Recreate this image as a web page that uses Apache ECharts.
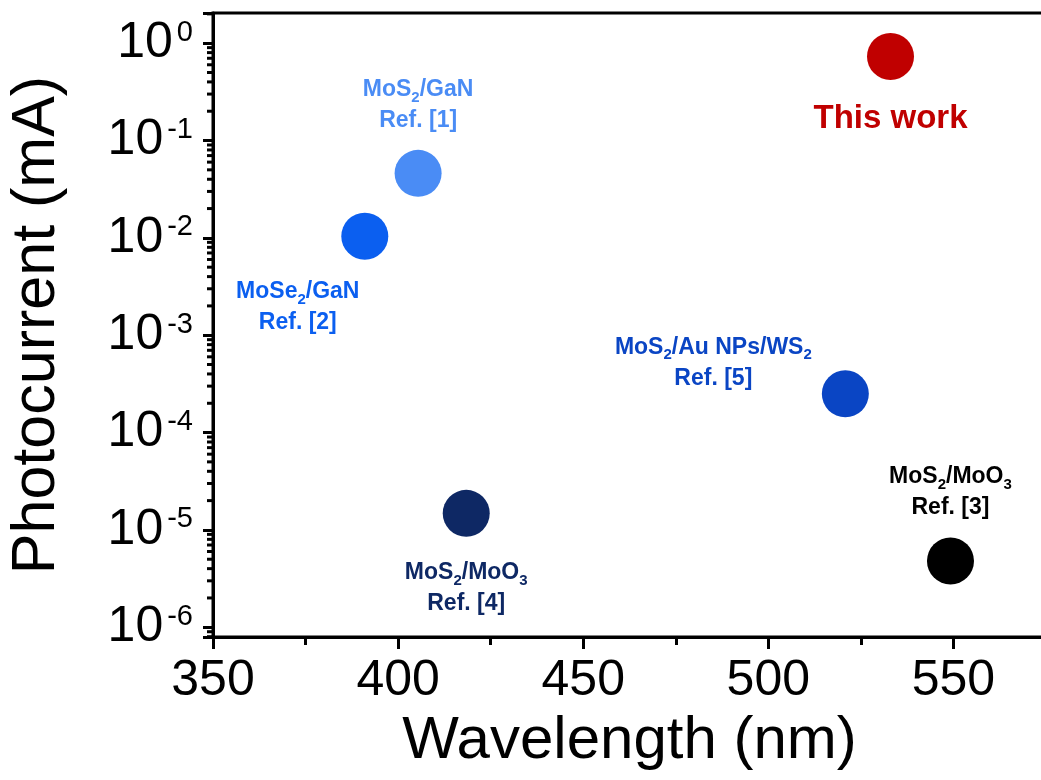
<!DOCTYPE html>
<html>
<head>
<meta charset="utf-8">
<script src="https://cdn.jsdelivr.net/npm/echarts@6/dist/echarts.min.js"></script>
<style>
  html, body { margin: 0; padding: 0; background: #fff; }
  #chart { width: 1041px; height: 780px; }
</style>
</head>
<body>
<div id="chart"></div>
<script>
// values
const wavelength = [391, 405.4, 418.4, 520.8, 533, 549.2];
const photocurrent = [1.04e-2, 4.6e-2, 1.48e-5, 2.5e-4, 0.73, 4.8e-6];
const sampleLabels = [
    '{t|MoSe}{s|2}{t|/GaN}\n{t|Ref. [2]}',
    '{t|MoS}{s|2}{t|/GaN}\n{t|Ref. [1]}',
    '{t|MoS}{s|2}{t|/MoO}{s|3}\n{t|Ref. [4]}',
    '{t|MoS}{s|2}{t|/Au NPs/WS}{s|2}\n{t|Ref. [5]}',
    '{w|This work}',
    '{t|MoS}{s|2}{t|/MoO}{s|3}\n{t|Ref. [3]}'
];
const xTicks = [350, 400, 450, 500, 550];
const yDecades = [-6, -5, -4, -3, -2, -1, 0];

// styling
const colors = ['#0b5ff0', '#4a8cf5', '#0e2864', '#0a45c4', '#c00000', '#000000'];
const labelOffsets = [[-67, 71], [0, -68], [0, 75], [-132, -31], [0, 62], [0, -69]];
const font = '"Liberation Sans", Arial, sans-serif';

const xMin = 350, xMax = 575;
const yMin = Math.pow(10, -6.1), yMax = Math.pow(10, 0.31);

// minor log ticks (2..9 per decade) within the axis range
const minorTicks = [];
for (let e = -7; e <= 0; e++) {
    for (let m = 2; m <= 9; m++) {
        const v = m * Math.pow(10, e);
        if (v > yMin && v < yMax) minorTicks.push(v);
    }
}

const isDecade = (v) => Math.abs(Math.log10(v) - Math.round(Math.log10(v))) < 1e-6;

const chart = echarts.init(document.getElementById('chart'));
chart.setOption({
    animation: false,
    grid: {
        left: 213, width: 833, top: 13, bottom: 143,
        outerBoundsMode: 'none',
        show: true, borderColor: '#000', borderWidth: 3
    },
    xAxis: {
        type: 'value',
        min: xMin, max: xMax, interval: 50,
        name: 'Wavelength (nm)',
        nameLocation: 'middle',
        nameGap: 74,
        nameTextStyle: { fontSize: 60, fontFamily: font, color: '#000' },
        axisLine: { lineStyle: { color: '#000', width: 3 } },
        axisTick: { length: 12, lineStyle: { width: 3, color: '#000' } },
        minorTick: { show: true, splitNumber: 2, length: 8, lineStyle: { width: 3, color: '#000' } },
        splitLine: { show: false },
        axisLabel: {
            fontSize: 50, fontFamily: font, color: '#000', margin: 19,
            showMaxLabel: false,
            formatter: (v) => (xTicks.indexOf(v) >= 0 ? String(v) : '')
        }
    },
    yAxis: {
        type: 'log',
        logBase: 10,
        min: yMin, max: yMax,
        name: 'Photocurrent (mA)',
        nameLocation: 'middle',
        nameGap: 145,
        nameTextStyle: { fontSize: 61, fontFamily: font, color: '#000' },
        axisLine: { lineStyle: { color: '#000', width: 3 } },
        axisTick: { length: 10, lineStyle: { width: 3, color: '#000' } },
        splitLine: { show: false },
        axisLabel: {
            margin: 20,
            fontFamily: font,
            color: '#000',
            formatter: (v) => {
                if (!isDecade(v)) return '';
                const e = Math.round(Math.log10(v));
                if (yDecades.indexOf(e) < 0) return '';
                return '{b|10}{p|' + e + '}';
            },
            rich: {
                b: { fontSize: 50, fontFamily: font, color: '#000', lineHeight: 50 },
                p: { fontSize: 29, fontFamily: font, color: '#000', lineHeight: 24, verticalAlign: 'top', padding: [0, 0, 0, 4] }
            }
        }
    },
    series: [
        {
            type: 'scatter',
            symbol: 'circle',
            symbolSize: 47,
            itemStyle: { opacity: 1 },
            data: wavelength.map((x, i) => ({
                value: [x, photocurrent[i]],
                itemStyle: { color: colors[i], opacity: 1 },
                label: {
                    show: true,
                    position: 'inside',
                    offset: labelOffsets[i],
                    formatter: sampleLabels[i],
                    color: colors[i],
                    opacity: 1,
                    align: 'center',
                    verticalAlign: 'middle',
                    rich: {
                        t: { fontSize: 23, fontWeight: 'bold', fontFamily: font, color: colors[i], lineHeight: 31 },
                        s: { fontSize: 15, fontWeight: 'bold', fontFamily: font, color: colors[i], lineHeight: 14, verticalAlign: 'bottom' },
                        w: { fontSize: 33, fontWeight: 'bold', fontFamily: font, color: colors[i], lineHeight: 36 }
                    }
                }
            }))
        },
        {
            // minor ticks on the log axis
            type: 'custom',
            silent: true,
            clip: false,
            data: minorTicks,
            renderItem: (params, api) => {
                const p = api.coord([xMin, api.value(0)]);
                return {
                    type: 'line',
                    shape: { x1: p[0] - 6, y1: p[1], x2: p[0], y2: p[1] },
                    style: { stroke: '#000', lineWidth: 3 }
                };
            },
            encode: { y: 0 }
        }
    ]
});
</script>
</body>
</html>
